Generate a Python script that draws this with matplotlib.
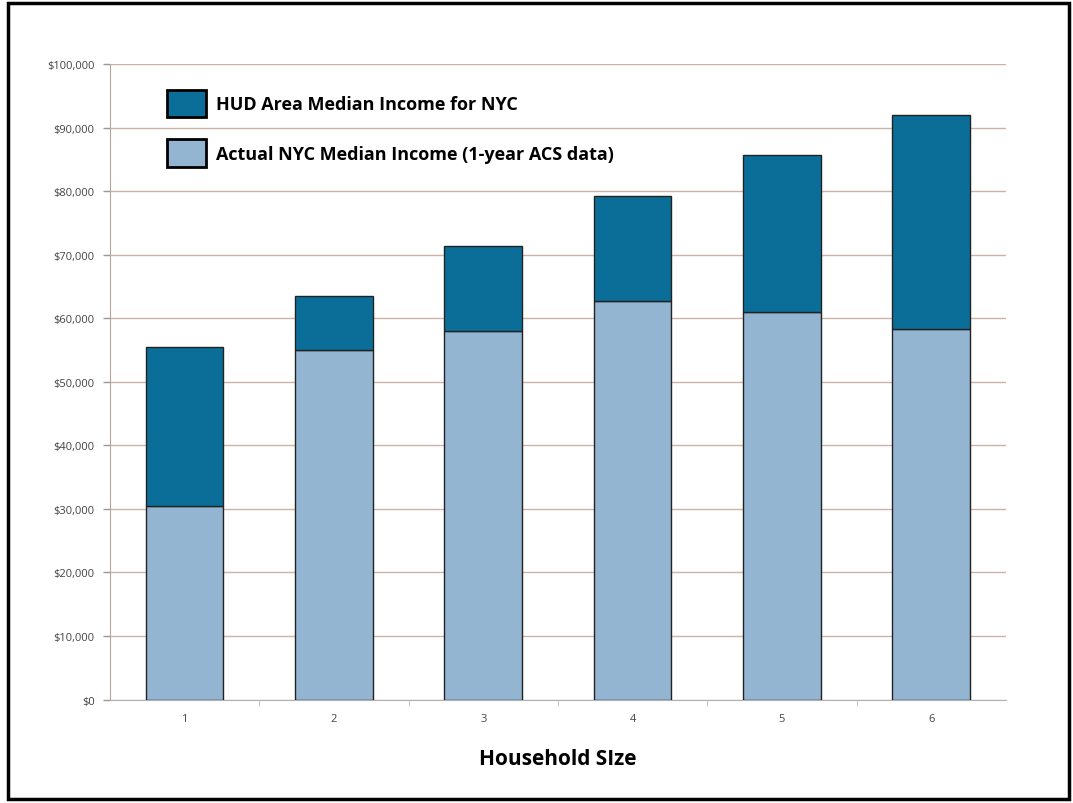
"""
HUD Area Median Income vs actual NYC median income by household size.
"""

import matplotlib
matplotlib.use("Agg")
import matplotlib.pyplot as plt
from matplotlib.patches import Patch, Rectangle
from matplotlib.ticker import FuncFormatter, FixedLocator

# data
household_size = ["1", "2", "3", "4", "5", "6"]
hud_ami = [55500, 63500, 71400, 79300, 85700, 92000]
actual_median = [30500, 55100, 58000, 62800, 61000, 58400]

hud_label = "HUD Area Median Income for NYC"
actual_label = "Actual NYC Median Income (1-year ACS data)"

DARK = "#0b6e99"
LIGHT = "#93b5d1"
GRID = "#cdb2a6"

plt.rcParams["font.family"] = ["Open Sans", "DejaVu Sans"]

fig = plt.figure(figsize=(10.73, 8.04), dpi=100)
ax = fig.add_axes([0.1025, 0.1287, 0.835, 0.79])

x = list(range(len(household_size)))
# HUD bar drawn as the increment above the actual median
hud_extra = [h - a for h, a in zip(hud_ami, actual_median)]
ax.bar(x, actual_median, width=0.52, color=LIGHT, edgecolor="#222222",
       linewidth=1.0, zorder=3)
ax.bar(x, hud_extra, width=0.52, bottom=actual_median, color=DARK,
       edgecolor="#222222", linewidth=1.0, zorder=3)

ax.set_xlim(-0.5, len(household_size) - 0.5)
ax.set_ylim(0, 100000)
ax.set_yticks(range(0, 100001, 10000))
ax.yaxis.set_major_formatter(FuncFormatter(lambda v, p: f"${v:,.0f}"))
ax.set_xticks(x)
ax.set_xticklabels(household_size)
ax.xaxis.set_minor_locator(FixedLocator([i + 0.5 for i in range(len(household_size) - 1)]))

ax.grid(axis="y", color=GRID, linewidth=1.0, zorder=0)
ax.tick_params(axis="y", labelsize=8, labelcolor="#444444", color="#999999",
               length=5, width=1, pad=6)
ax.tick_params(axis="x", which="major", labelsize=8, labelcolor="#444444",
               length=0, pad=10)
ax.tick_params(axis="x", which="minor", length=4, color="#bbbbbb")

for side in ["top", "right"]:
    ax.spines[side].set_visible(False)
ax.spines["left"].set_color("#b8a39a")
ax.spines["bottom"].set_color("#b0b0b0")

ax.set_xlabel("Household SIze", fontsize=15, fontweight="bold", labelpad=17)

handles = [
    Patch(facecolor=DARK, edgecolor="black", linewidth=2, label=hud_label),
    Patch(facecolor=LIGHT, edgecolor="black", linewidth=2, label=actual_label),
]
leg = ax.legend(handles=handles, loc="upper left", bbox_to_anchor=(0.045, 0.986),
                frameon=False, prop={"size": 13, "weight": "bold"},
                handlelength=2.2, handleheight=2.0, handletextpad=0.55,
                labelspacing=1.2, borderpad=0.4)

# black frame around the whole picture
fig.patches.append(Rectangle((0.007, 0.005), 0.989, 0.99, transform=fig.transFigure,
                             fill=False, edgecolor="black", linewidth=2.5))

plt.savefig("out.png", dpi=100, facecolor="white")
plt.close()
